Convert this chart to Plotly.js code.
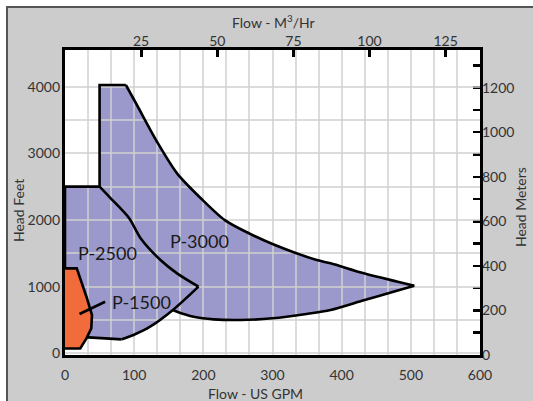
<!DOCTYPE html>
<html><head><meta charset="utf-8">
<script src="https://cdn.plot.ly/plotly-3.0.1.min.js"></script>
<style>
html,body{margin:0;padding:0;background:#fff;overflow:hidden;width:533px;height:401px}
#frame{position:absolute;left:6px;top:6px;width:600px;height:600px;background:#cccccc;border-left:2px solid #555;border-top:2px solid #555}
#plotbg{position:absolute;left:65px;top:50px;width:415px;height:305px;background:#ffffff}
#chart{position:absolute;left:0;top:0;width:533px;height:401px}
</style></head><body>
<div id="frame"></div><div id="plotbg"></div><div id="chart"></div>
<script>
// Unit conversions for the secondary axes
const GPM_PER_M3HR = 4.4029;
const FT_PER_M = 3.28084;

// Envelope boundaries (US GPM vs head feet)
// left step: P-2500 top shelf and the P-3000 high-head column
const stepGpm = [0, 50, 50, 88];
const stepFt  = [2500, 2500, 4025, 4025];
// P-3000 upper curve
const upperGpm = [88, 104, 133, 162, 196, 231, 265, 300, 364, 384, 432, 481, 505];
const upperFt  = [4025, 3725, 3174, 2700, 2330, 1998, 1805, 1641, 1399, 1350, 1200, 1074, 1014];
// P-3000 lower curve (tip back to the P-2500 junction)
const lowerGpm = [505, 481, 432, 384, 349, 300, 254, 215, 186, 162, 156];
const lowerFt  = [1014, 941, 795, 650, 590, 525, 500, 510, 549, 624, 650];
// P-2500 upper boundary
const p2500UpGpm = [50, 65, 93, 109, 138, 162, 193];
const p2500UpFt  = [2500, 2337, 2024, 1730, 1400, 1200, 1000];
// P-2500 lower boundary (tip, junction, down to the bottom corner)
const p2500LowGpm = [193, 156, 123, 99, 82];
const p2500LowFt  = [1000, 650, 399, 275, 210];
// bottom-left edge toward the P-1500 region
const baseGpm = [82, 34, 0];
const baseFt  = [210, 240, 240];

// P-1500 region
const p1500Gpm = [0, 17, 31, 39, 38, 31, 22, 0];
const p1500Ft  = [1275, 1275, 849, 575, 375, 225, 72, 72];

// Leader line for the P-1500 label
const leaderGpm = [21, 58];
const leaderFt  = [590, 774];

// Region labels
const labelText = ['P-3000', 'P-2500', 'P-1500'];
const labelGpm  = [194, 62, 110];
const labelFt   = [1692, 1500, 774];

// Tick values
const gpmTicks  = [0, 100, 200, 300, 400, 500, 600];
const ftTicks   = [0, 1000, 2000, 3000, 4000];
const m3hrTicks = [25, 50, 75, 100, 125];
const mTicks    = [0, 200, 400, 600, 800, 1000, 1200];

const FONT = 'Lato, "DejaVu Sans", sans-serif';
const TXT = '#333333';
const GRID = 'rgba(208,208,208,0.75)';
const X_RANGE = [0, 600];
const Y_RANGE = [-25, 4550];

// fill polygon of the combined purple envelope (built from the boundaries above)
const envGpm = [].concat(stepGpm, upperGpm.slice(1), lowerGpm.slice(1), p2500LowGpm.slice(2), baseGpm.slice(1));
const envFt  = [].concat(stepFt, upperFt.slice(1), lowerFt.slice(1), p2500LowFt.slice(2), baseFt.slice(1));

const blk = (shape) => ({color: '#000', width: 2.6, shape: shape, smoothing: 0.8});
const onTop = {xaxis: 'x3', yaxis: 'y3', type: 'scatter', mode: 'lines', hoverinfo: 'skip'};

const traces = [
  // purple fill below the grid
  {x: envGpm, y: envFt, type: 'scatter', mode: 'lines', fill: 'toself',
   fillcolor: '#9b99cc', line: {width: 0}, hoverinfo: 'skip'},
  // outlines above the grid
  Object.assign({x: [0, 0], y: [240, 2500], line: blk('linear')}, onTop),
  Object.assign({x: stepGpm, y: stepFt, line: blk('linear')}, onTop),
  Object.assign({x: upperGpm, y: upperFt, line: blk('spline')}, onTop),
  Object.assign({x: lowerGpm, y: lowerFt, line: blk('spline')}, onTop),
  Object.assign({x: p2500UpGpm, y: p2500UpFt, line: blk('spline')}, onTop),
  Object.assign({x: p2500LowGpm, y: p2500LowFt, line: blk('spline')}, onTop),
  Object.assign({x: baseGpm, y: baseFt, line: blk('linear')}, onTop),
  Object.assign({x: p1500Gpm, y: p1500Ft, fill: 'toself', fillcolor: '#f26b3b', line: blk('linear')}, onTop),
  Object.assign({x: leaderGpm, y: leaderFt, line: blk('linear')}, onTop),
  // activate secondary axes
  {x: [0], y: [0], xaxis: 'x2', yaxis: 'y', type: 'scatter', mode: 'markers', marker: {size: 1, opacity: 0}, hoverinfo: 'skip'},
  {x: [0], y: [0], xaxis: 'x', yaxis: 'y2', type: 'scatter', mode: 'markers', marker: {size: 1, opacity: 0}, hoverinfo: 'skip'}
];

const W = 533, H = 401, L = 65, R = 53, T = 50, B = 46;
const pw = W - L - R, ph = H - T - B;
const px = (v) => (v - L) / pw, py = (v) => 1 - (v - T) / ph;

const annotations = labelText.map((t, i) => ({
  x: labelGpm[i], y: labelFt[i], xref: 'x3', yref: 'y3', text: t, showarrow: false,
  xanchor: 'center', yanchor: 'middle',
  font: {family: FONT, size: 18, color: '#1a1a1a'}
}));
const titleFont = {family: FONT, size: 14, color: TXT};
const titleAnn = (x, y, text, angle) => ({
  x: px(x), y: py(y), xref: 'paper', yref: 'paper', text: text, textangle: angle || 0,
  showarrow: false, xanchor: 'center', yanchor: 'middle', font: titleFont
});
annotations.push(
  titleAnn(273, 21, 'Flow - M<sup>3</sup>/Hr'),
  titleAnn(255, 393, 'Flow - US GPM'),
  titleAnn(18, 211, 'Head Feet', -90),
  titleAnn(520, 207, 'Head Meters', -90)
);

// grid positions: every 1/3 of a 100 GPM division, every 500 ft up to 4000 ft
const gridGpm = [];
for (let i = 0; i <= 18; i++) gridGpm.push(i * 100 / 3);
const gridFt = [];
for (let v = 0; v <= 4000; v += 500) gridFt.push(v);

const tickFont = {family: FONT, size: 14, color: TXT};
const layout = {
  width: W, height: H,
  margin: {l: L, r: R, t: T, b: B, pad: 0},
  paper_bgcolor: 'rgba(0,0,0,0)',
  plot_bgcolor: 'rgba(0,0,0,0)',
  showlegend: false,
  xaxis: {range: X_RANGE, tickvals: gpmTicks, showgrid: false, zeroline: false, showline: false,
          ticks: '', tickfont: tickFont, ticklabelstandoff: 10},
  yaxis: {range: Y_RANGE, tickvals: ftTicks, showgrid: false, zeroline: false, showline: false,
          ticks: '', tickfont: tickFont, ticklabelstandoff: 4},
  xaxis2: {overlaying: 'x', side: 'top', range: [0, 600 / GPM_PER_M3HR], tickvals: m3hrTicks,
           showgrid: false, zeroline: false, showline: false, ticks: 'inside', ticklen: 7, tickwidth: 3,
           tickcolor: '#000', tickfont: tickFont, ticklabelstandoff: 0},
  yaxis2: {overlaying: 'y', side: 'right', range: [0, 1369], tickvals: mTicks,
           minor: {dtick: 100, tick0: 0, ticks: 'inside', ticklen: 7, tickwidth: 2.5, tickcolor: '#000', showgrid: false},
           showgrid: false, zeroline: false, showline: false, ticks: 'inside', ticklen: 7, tickwidth: 2.5,
           tickcolor: '#000', tickfont: tickFont, ticklabelstandoff: 1},
  xaxis3: {anchor: 'y3', domain: [0, 1], range: X_RANGE, tickvals: gridGpm, showticklabels: false, ticks: '',
           showgrid: true, gridcolor: GRID, gridwidth: 2, zeroline: false,
           showline: true, linecolor: '#000', linewidth: 3, mirror: true},
  yaxis3: {anchor: 'x3', domain: [0, 1], range: Y_RANGE, tickvals: gridFt, showticklabels: false, ticks: '',
           showgrid: true, gridcolor: GRID, gridwidth: 2, zeroline: false,
           showline: true, linecolor: '#000', linewidth: 3, mirror: true},
  annotations: annotations
};

Plotly.newPlot('chart', traces, layout, {displayModeBar: false, staticPlot: true});
</script>
</body></html>
